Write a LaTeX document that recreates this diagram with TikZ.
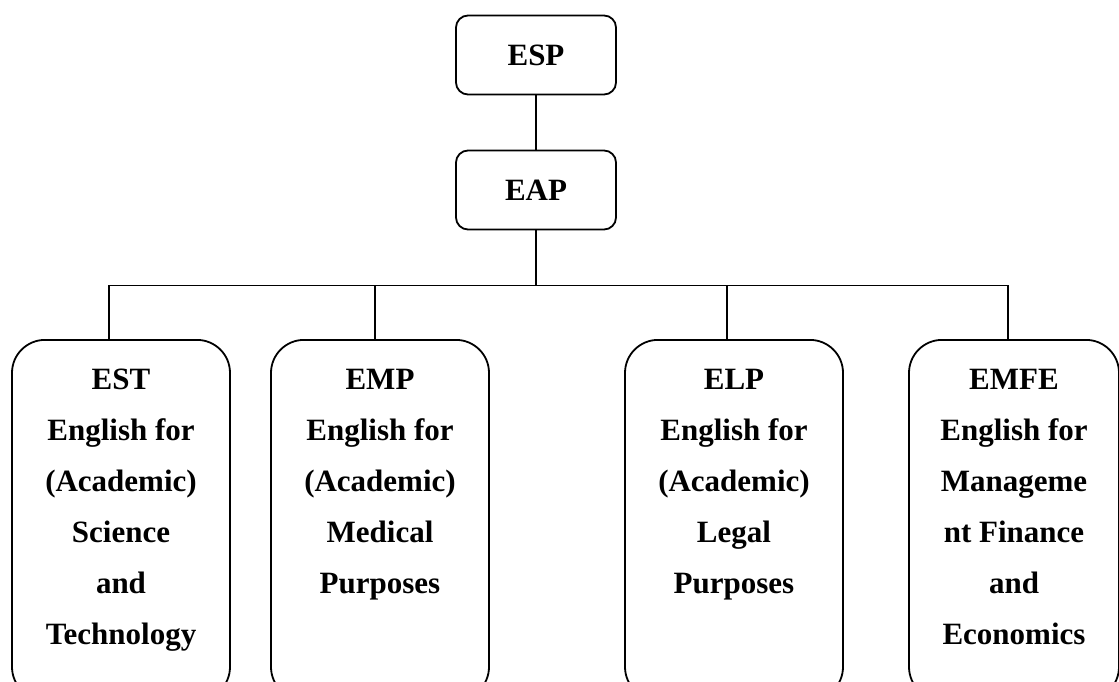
\documentclass[tikz,border=0pt]{standalone}
\usepackage{fontspec}
\setmainfont{Liberation Serif}
\usepackage{tikz}
\usetikzlibrary{positioning,calc}
\newcommand{\leaftext}[1]{\begin{minipage}[t][360pt][t]{210pt}\centering\vspace*{29pt}#1\end{minipage}}

\begin{document}
\begin{tikzpicture}[x=1pt,y=-1pt,
  top/.style={draw=black,rounded corners=12pt,minimum width=160pt,minimum height=79pt,line width=1.8pt,font=\fontsize{31}{36}\selectfont\bfseries},
  leaf/.style={draw=black,rounded corners=33pt,anchor=north,inner sep=0pt,minimum width=218pt,line width=1.8pt,font=\fontsize{31}{51}\selectfont\bfseries},
  link/.style={draw=black,line width=1.8pt}]
 \useasboundingbox (0,0) rectangle (1119,682);
 \clip (0,0) rectangle (1119,682);
 \node[top] (esp) at (536,55) {ESP};
 \node[top] (eap) at (536,190) {EAP};
 \node[leaf] (est) at (121,339) {\leaftext{EST\\English for\\(Academic)\\Science\\and\\Technology}};
 \node[leaf] (emp) at (380,339) {\leaftext{EMP\\English for\\(Academic)\\Medical\\Purposes}};
 \node[leaf] (elp) at (734,339) {\leaftext{ELP\\English for\\(Academic)\\Legal\\Purposes}};
 \node[leaf,minimum width=208pt] (emfe) at (1014,339) {\leaftext{EMFE\\English for\\Manageme\\nt Finance\\and\\Economics}};
 \draw[link] (esp) -- (eap);
 \coordinate (bus) at ($(eap.south)+(0,55)$);
 \draw[link] (eap.south) -- (bus);
 \draw[link] (bus) -| ([xshift=-12pt]est.north);
 \draw[link] (bus) -| ([xshift=-5pt]emp.north);
 \draw[link] (bus) -| ([xshift=-7pt]elp.north);
 \draw[link] (bus) -| ([xshift=-6pt]emfe.north);
\end{tikzpicture}
\end{document}
